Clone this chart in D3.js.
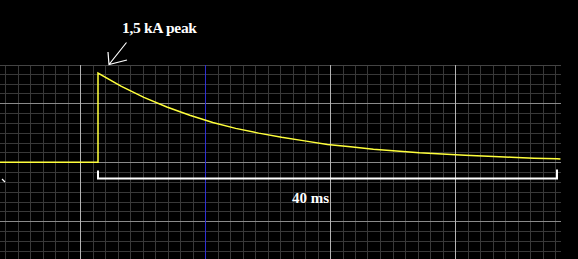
<!DOCTYPE html>
<html>
	<head>
		<meta charset="utf-8">
		<title>Pulse</title>
		<style>
			body {
			  margin: 0;
			  background: #000;
			  overflow: hidden;
			}
			svg {
			  position: absolute;
			  left: 0;
			  top: 0;
			}
		</style>
		<script src="https://d3js.org/d3.v7.min.js" charset="utf-8"></script>
	</head>
	<body>
		<script>

		var w = 578,
			h = 259;

		// pulse (time in ms, current in kA)
		var times    = [-8.54, 0, 0, 2, 4, 6, 8, 10, 12, 14, 16, 18, 20, 22, 24, 26, 28, 30, 32, 34, 36, 38, 40, 40.3];
		var currents = [0, 0, 1.5, 1.28, 1.09, 0.93, 0.79, 0.67, 0.57, 0.49, 0.42, 0.36, 0.30, 0.26, 0.22, 0.19, 0.16, 0.14, 0.12, 0.10, 0.085, 0.07, 0.06, 0.055];

		// grid divisions
		var majorCols = [0, 1, 2, 3];
		var blueCols = [1];
		var majorRows = [-1, 0, 1];
		var peakLabel = "1,5 kA peak";
		var spanLabel = "40 ms";
		var spanMs = [0, 40];

		var svg = d3.select("body").append("svg")
			.attr("width", w)
			.attr("height", h);

		svg.append("rect").attr("width", w).attr("height", h).attr("fill", "#000");

		// grid scales (in divisions)
		var gx = d3.scaleLinear().domain([0, 1]).range([80, 205]),
			gy = d3.scaleLinear().domain([0, 1]).range([162.3, 103.3]);

		var gTop = 65, gRight = 561;

		var minorCols = d3.range(-6, 39).map(function(d){ return d / 10; }).filter(function(d){ return gx(d) <= gRight; });
		var minorRows = d3.range(-10, 10).map(function(d){ return d / 6; }).filter(function(d){ return gy(d) >= gTop && gy(d) <= h; });

		var grid = svg.append("g").attr("shape-rendering", "crispEdges");

		grid.selectAll(".mc").data(minorCols).enter().append("line")
			.attr("x1", function(d){ return Math.round(gx(d)) + 0.5; })
			.attr("x2", function(d){ return Math.round(gx(d)) + 0.5; })
			.attr("y1", gTop).attr("y2", h)
			.attr("stroke", "#383838");

		grid.selectAll(".mr").data(minorRows).enter().append("line")
			.attr("x1", 0).attr("x2", gRight)
			.attr("y1", function(d){ return Math.round(gy(d)) + 0.5; })
			.attr("y2", function(d){ return Math.round(gy(d)) + 0.5; })
			.attr("stroke", "#383838");

		grid.append("line").attr("x1", 0).attr("x2", gRight).attr("y1", gTop + 0.5).attr("y2", gTop + 0.5).attr("stroke", "#444");

		grid.selectAll(".Mr").data(majorRows).enter().append("line")
			.attr("x1", 0).attr("x2", gRight)
			.attr("y1", function(d){ return Math.round(gy(d)) + 0.5; })
			.attr("y2", function(d){ return Math.round(gy(d)) + 0.5; })
			.attr("stroke", "#8a8a8a");

		grid.selectAll(".Mc").data(majorCols).enter().append("line")
			.attr("x1", function(d){ return Math.round(gx(d)) + 0.5; })
			.attr("x2", function(d){ return Math.round(gx(d)) + 0.5; })
			.attr("y1", gTop).attr("y2", h)
			.attr("stroke", function(d){ return blueCols.indexOf(d) >= 0 ? "#2e2ed0" : "#b4b4b4"; });

		// signal scales
		var x = d3.scaleLinear().domain([0, 40]).range([98, 557]),
			y = d3.scaleLinear().domain([0, 1.5]).range([162.3, 73]);

		var pts = times.map(function(t, i){ return [t, currents[i]]; });

		svg.append("path")
			.datum(pts)
			.attr("d", d3.line().x(function(d){ return x(d[0]); }).y(function(d){ return y(d[1]); }))
			.attr("fill", "none")
			.attr("stroke", "#ffff3c")
			.attr("stroke-width", 1.5);

		// 40 ms bracket
		var by = 178.5;
		svg.append("path")
			.attr("d", "M" + x(spanMs[0]) + "," + (by - 8) + "V" + by + "H" + x(spanMs[1]) + "V" + (by - 9))
			.attr("fill", "none")
			.attr("stroke", "#fff")
			.attr("stroke-width", 2);

		svg.append("text")
			.attr("x", x((spanMs[0] + spanMs[1]) / 2) - 17)
			.attr("y", 203)
			.attr("text-anchor", "middle")
			.attr("font-family", "Liberation Serif, Times New Roman, serif")
			.attr("font-weight", "bold")
			.attr("font-size", "15px")
			.attr("fill", "#fff")
			.text(spanLabel);

		// peak annotation
		svg.append("text")
			.attr("x", 122)
			.attr("y", 33)
			.attr("font-family", "Liberation Serif, Times New Roman, serif")
			.attr("font-weight", "bold")
			.attr("font-size", "15.5px")
			.attr("letter-spacing", "-0.3px")
			.attr("fill", "#fff")
			.text(peakLabel);

		svg.append("path")
			.attr("d", "M126.5,42.5 L109,64.5 M108,52 L109,64.5 L127,60")
			.attr("fill", "none")
			.attr("stroke", "#fff")
			.attr("stroke-width", 1.2);

		// stray mark at left edge
		svg.append("line")
			.attr("x1", 2).attr("y1", 179).attr("x2", 5).attr("y2", 182)
			.attr("stroke", "#fff").attr("stroke-width", 1.2);

		</script>
	</body>
</html>
